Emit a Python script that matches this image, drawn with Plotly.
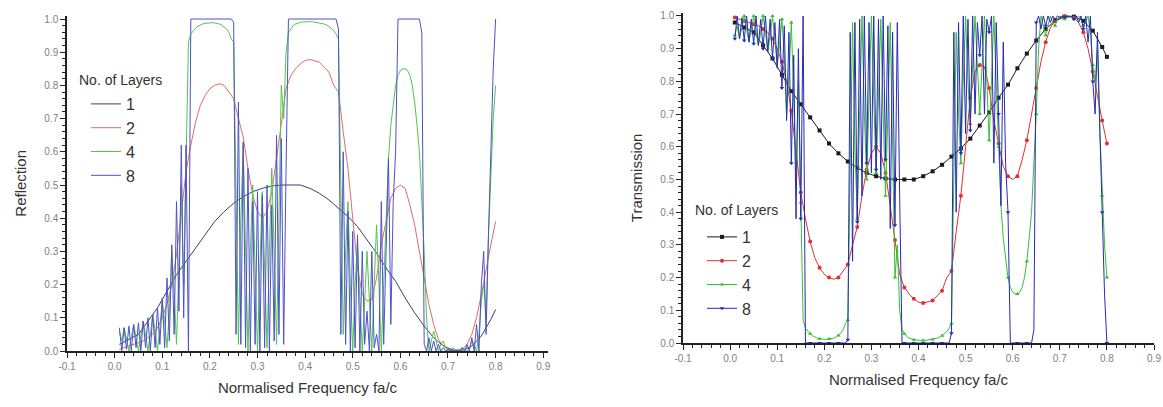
import plotly.graph_objects as go

# ---------------- data ----------------
LAYERS = ["1", "2", "4", "8"]

# sampling frequencies fa/c
FREQ_COARSE = [0.01, 0.03, 0.05, 0.07, 0.09, 0.11, 0.13, 0.15, 0.17, 0.19,
               0.21, 0.23, 0.25, 0.27, 0.29, 0.31, 0.33, 0.35, 0.37, 0.39,
               0.41, 0.43, 0.45, 0.47, 0.49, 0.51, 0.53, 0.55, 0.57, 0.59,
               0.61, 0.63, 0.65, 0.67, 0.69, 0.71, 0.73, 0.75, 0.77, 0.79,
               0.80]

FREQ_MID = [0.01, 0.02, 0.03, 0.04, 0.05, 0.06, 0.07, 0.08, 0.09, 0.10,
            0.11, 0.12, 0.13, 0.14, 0.15, 0.16, 0.17, 0.18, 0.19, 0.20,
            0.21, 0.22, 0.23, 0.24, 0.25, 0.26, 0.27, 0.28, 0.29, 0.30,
            0.31, 0.32, 0.33, 0.34, 0.35, 0.36, 0.37, 0.38, 0.39, 0.40,
            0.41, 0.42, 0.43, 0.44, 0.45, 0.46, 0.47, 0.48, 0.49, 0.50,
            0.51, 0.52, 0.53, 0.54, 0.55, 0.56, 0.57, 0.58, 0.59, 0.60,
            0.61, 0.62, 0.63, 0.64, 0.65, 0.66, 0.67, 0.68, 0.69, 0.70,
            0.71, 0.72, 0.73, 0.74, 0.75, 0.76, 0.77, 0.78, 0.79, 0.80]

FREQ_FINE = [0.010, 0.015, 0.020, 0.025, 0.030, 0.035, 0.040, 0.045, 0.050, 0.055,
             0.060, 0.065, 0.070, 0.075, 0.080, 0.085, 0.090, 0.095, 0.100, 0.105,
             0.110, 0.115, 0.120, 0.125, 0.130, 0.135, 0.140, 0.145, 0.150, 0.155,
             0.160, 0.165, 0.170, 0.175, 0.180, 0.185, 0.190, 0.195, 0.200, 0.205,
             0.210, 0.215, 0.220, 0.225, 0.230, 0.235, 0.240, 0.245, 0.250, 0.255,
             0.260, 0.265, 0.270, 0.275, 0.280, 0.285, 0.290, 0.295, 0.300, 0.305,
             0.310, 0.315, 0.320, 0.325, 0.330, 0.335, 0.340, 0.345, 0.350, 0.355,
             0.360, 0.365, 0.370, 0.375, 0.380, 0.385, 0.390, 0.395, 0.400, 0.405,
             0.410, 0.415, 0.420, 0.425, 0.430, 0.435, 0.440, 0.445, 0.450, 0.455,
             0.460, 0.465, 0.470, 0.475, 0.480, 0.485, 0.490, 0.495, 0.500, 0.505,
             0.510, 0.515, 0.520, 0.525, 0.530, 0.535, 0.540, 0.545, 0.550, 0.555,
             0.560, 0.565, 0.570, 0.575, 0.580, 0.585, 0.590, 0.595, 0.600, 0.605,
             0.610, 0.615, 0.620, 0.625, 0.630, 0.635, 0.640, 0.645, 0.650, 0.655,
             0.660, 0.665, 0.670, 0.675, 0.680, 0.685, 0.690, 0.695, 0.700, 0.705,
             0.710, 0.715, 0.720, 0.725, 0.730, 0.735, 0.740, 0.745, 0.750, 0.755,
             0.760, 0.765, 0.770, 0.775, 0.780, 0.785, 0.790, 0.795, 0.800]

# reflection, 1 layer (on FREQ_COARSE)
R1 = [0.02, 0.035, 0.05, 0.09, 0.13, 0.18, 0.23, 0.27, 0.31, 0.35,
      0.39, 0.42, 0.445, 0.465, 0.48, 0.49, 0.497, 0.50, 0.50, 0.50,
      0.49, 0.475, 0.455, 0.43, 0.405, 0.375, 0.335, 0.295, 0.25, 0.21,
      0.16, 0.115, 0.075, 0.04, 0.015, 0.003, 0.002, 0.015, 0.045, 0.095,
      0.125]

# reflection, 2 layers (on FREQ_MID)
R2 = [0.005, 0.01, 0.015, 0.02, 0.025, 0.03, 0.04, 0.05, 0.07, 0.10,
      0.14, 0.20, 0.29, 0.42, 0.54, 0.62, 0.69, 0.74, 0.77, 0.79,
      0.80, 0.805, 0.80, 0.78, 0.76, 0.70, 0.645, 0.55, 0.47, 0.42,
      0.40, 0.42, 0.48, 0.58, 0.685, 0.79, 0.83, 0.85, 0.865, 0.875,
      0.878, 0.875, 0.87, 0.855, 0.84, 0.80, 0.78, 0.66, 0.55, 0.40,
      0.25, 0.17, 0.15, 0.155, 0.22, 0.32, 0.39, 0.46, 0.49, 0.50,
      0.49, 0.44, 0.38, 0.30, 0.22, 0.14, 0.08, 0.035, 0.015, 0.005,
      0.0, 0.0, 0.005, 0.02, 0.05, 0.10, 0.17, 0.25, 0.32, 0.39]

# reflection, 4 layers (on FREQ_FINE)
R4 = [0.06, 0.03, 0.07, 0.03, 0.00, 0.04, 0.08, 0.04, 0.00, 0.045,
      0.09, 0.05, 0.00, 0.05, 0.11, 0.06, 0.00, 0.07, 0.15, 0.09,
      0.01, 0.12, 0.30, 0.18, 0.02, 0.25, 0.50, 0.20, 0.57, 0.93,
      0.955, 0.965, 0.972, 0.978, 0.982, 0.985, 0.987, 0.988, 0.989, 0.989,
      0.988, 0.987, 0.985, 0.982, 0.977, 0.970, 0.960, 0.940, 0.930, 0.50,
      0.02, 0.40, 0.62, 0.30, 0.00, 0.30, 0.50, 0.25, 0.00, 0.25,
      0.48, 0.25, 0.01, 0.30, 0.55, 0.30, 0.02, 0.40, 0.80, 0.70,
      0.90, 0.96, 0.972, 0.98, 0.985, 0.988, 0.99, 0.991, 0.992, 0.992,
      0.992, 0.992, 0.991, 0.99, 0.989, 0.987, 0.985, 0.982, 0.978, 0.972,
      0.965, 0.955, 0.94, 0.50, 0.05, 0.30, 0.45, 0.20, 0.00, 0.20,
      0.33, 0.15, 0.00, 0.15, 0.30, 0.15, 0.00, 0.20, 0.38, 0.20,
      0.00, 0.20, 0.40, 0.58, 0.68, 0.75, 0.80, 0.83, 0.845, 0.85,
      0.85, 0.845, 0.83, 0.80, 0.75, 0.68, 0.60, 0.45, 0.30, 0.10,
      0.00, 0.03, 0.06, 0.03, 0.00, 0.02, 0.03, 0.01, 0.00, 0.005,
      0.01, 0.005, 0.00, 0.005, 0.01, 0.005, 0.00, 0.01, 0.03, 0.02,
      0.00, 0.05, 0.15, 0.20, 0.10, 0.35, 0.55, 0.70, 0.80]

# reflection, 8 layers (on FREQ_FINE)
R8 = [0.07, 0.00, 0.07, 0.005, 0.075, 0.00, 0.08, 0.01, 0.085, 0.00,
      0.09, 0.01, 0.10, 0.00, 0.11, 0.01, 0.13, 0.02, 0.16, 0.01,
      0.22, 0.03, 0.32, 0.05, 0.45, 0.12, 0.62, 0.10, 0.62, 0.00,
      1.0, 1.0, 1.0, 1.0, 1.0, 1.0, 1.0, 1.0, 1.0, 1.0,
      1.0, 1.0, 1.0, 1.0, 1.0, 1.0, 1.0, 1.0, 0.99, 0.05,
      0.75, 0.02, 0.63, 0.01, 0.55, 0.00, 0.45, 0.02, 0.48, 0.00,
      0.47, 0.01, 0.50, 0.00, 0.44, 0.03, 0.65, 0.05, 0.64, 0.02,
      0.55, 1.0, 1.0, 1.0, 1.0, 1.0, 1.0, 1.0, 1.0, 1.0,
      1.0, 1.0, 1.0, 1.0, 1.0, 1.0, 1.0, 1.0, 1.0, 1.0,
      1.0, 1.0, 0.97, 0.05, 0.60, 0.02, 0.42, 0.00, 0.36, 0.01,
      0.35, 0.00, 0.30, 0.02, 0.12, 0.00, 0.30, 0.01, 0.05, 0.00,
      0.45, 0.02, 0.30, 0.58, 0.08, 0.45, 0.60, 1.0, 1.0, 1.0,
      1.0, 1.0, 1.0, 1.0, 1.0, 1.0, 1.0, 0.96, 0.02, 0.00,
      0.04, 0.00, 0.03, 0.00, 0.02, 0.00, 0.01, 0.00, 0.005, 0.00,
      0.003, 0.00, 0.003, 0.00, 0.01, 0.00, 0.02, 0.00, 0.04, 0.00,
      0.08, 0.00, 0.20, 0.30, 0.05, 0.35, 0.60, 0.85, 1.0]

X_TICKS = [-0.1, 0.0, 0.1, 0.2, 0.3, 0.4, 0.5, 0.6, 0.7, 0.8, 0.9]
X_TICK_LABELS = ["-0.1", "0.0", "0.1", "0.2", "0.3", "0.4", "0.5", "0.6", "0.7", "0.8", "0.9"]
Y_TICKS = [0.0, 0.1, 0.2, 0.3, 0.4, 0.5, 0.6, 0.7, 0.8, 0.9, 1.0]
Y_TICK_LABELS = ["0.0", "0.1", "0.2", "0.3", "0.4", "0.5", "0.6", "0.7", "0.8", "0.9", "1.0"]

X_TITLE = "Normalised Frequency fa/c"
LEGEND_TITLE = "No. of Layers"

# ---------------- styling ----------------
FONT = "Liberation Sans, Arial, sans-serif"
LEFT_COLORS = ["#3c3c70", "#e46a6a", "#4cc84c", "#5050cc"]
RIGHT_COLORS = ["#1a1a1a", "#e03030", "#33c233", "#2a2ab4"]
SYMBOLS = ["square", "circle", "triangle-up", "triangle-down"]
MARKER_STEP = [1, 2, 4, 4]

series = [
    (FREQ_COARSE, R1),
    (FREQ_MID, R2),
    (FREQ_FINE, R4),
    (FREQ_FINE, R8),
]

fig = go.Figure()

# left panel: reflection
for k, (xs, rs) in enumerate(series):
    fig.add_trace(go.Scatter(
        x=xs, y=rs, mode="lines", name=LAYERS[k],
        line=dict(color=LEFT_COLORS[k], width=1),
        xaxis="x", yaxis="y", legend="legend",
    ))

# right panel: transmission = 1 - reflection
for k, (xs, rs) in enumerate(series):
    ts = [round(1.0 - r, 4) for r in rs]
    step = MARKER_STEP[k]
    idx = [i for i in range(len(xs)) if i % step == 0 or i == len(xs) - 1]
    fig.add_trace(go.Scatter(
        x=xs, y=ts, mode="lines", showlegend=False,
        line=dict(color=RIGHT_COLORS[k], width=1),
        xaxis="x2", yaxis="y2", hoverinfo="skip",
    ))
    fig.add_trace(go.Scatter(
        x=[xs[i] for i in idx], y=[ts[i] for i in idx], mode="markers",
        showlegend=False, cliponaxis=False,
        marker=dict(color=RIGHT_COLORS[k], symbol=SYMBOLS[k], size=4),
        xaxis="x2", yaxis="y2",
    ))
for k in range(4):
    fig.add_trace(go.Scatter(
        x=[None], y=[None], mode="lines+markers", name=LAYERS[k],
        line=dict(color=RIGHT_COLORS[k], width=1),
        marker=dict(color=RIGHT_COLORS[k], symbol=SYMBOLS[k], size=4),
        xaxis="x2", yaxis="y2", legend="legend2",
    ))

W, H = 1163, 407


def axis_common():
    return dict(
        automargin=False,
        showgrid=False, zeroline=False, showline=True,
        linecolor="#222222", linewidth=1.5,
        ticks="outside", ticklen=5, tickwidth=1.2, tickcolor="#222222",
        tickfont=dict(family=FONT, size=10, color="#808080"),
        title_font=dict(family=FONT, size=15, color="#333333"),
    )


MINOR = dict(ticks="outside", ticklen=3, dtick=0.02, tick0=0, tickcolor="#222222")

xl = axis_common()
xl.update(domain=[67 / W, 548 / W], range=[-0.1, 0.91], anchor="y",
          tickvals=X_TICKS, ticktext=X_TICK_LABELS, minor=MINOR,
          title=dict(text=X_TITLE, standoff=12))
yl = axis_common()
yl.update(domain=[(H - 351) / H, (H - 15.7) / H], range=[0, 1.01], anchor="x",
          tickvals=Y_TICKS, ticktext=Y_TICK_LABELS, minor=MINOR,
          title=dict(text="Reflection", standoff=14))
xr = axis_common()
xr.update(domain=[683 / W, 1154 / W], range=[-0.1, 0.9], anchor="y2",
          tickvals=X_TICKS, ticktext=X_TICK_LABELS, minor=MINOR,
          title=dict(text=X_TITLE, standoff=12))
yr = axis_common()
yr.update(domain=[(H - 343) / H, (H - 12.7) / H], range=[0, 1.01], anchor="x2",
          tickvals=Y_TICKS, ticktext=Y_TICK_LABELS, minor=MINOR,
          title=dict(text="Transmission", standoff=14))

legend_common = dict(
    xanchor="left", yanchor="top", bgcolor="rgba(0,0,0,0)",
    font=dict(family=FONT, size=16, color="#333333"),
    tracegroupgap=0, itemwidth=30,
)

fig.update_layout(
    width=W, height=H,
    margin=dict(l=0, r=0, t=0, b=0, autoexpand=False),
    paper_bgcolor="white", plot_bgcolor="white",
    showlegend=True,
    xaxis=xl, yaxis=yl, xaxis2=xr, yaxis2=yr,
    legend=dict(x=86 / W, y=1 - 87 / H, **legend_common),
    legend2=dict(x=702 / W, y=1 - 220 / H, **legend_common),
    annotations=[
        dict(text=LEGEND_TITLE, x=77 / W, y=1 - 80 / H, xref="paper", yref="paper",
             xanchor="left", yanchor="middle", showarrow=False,
             font=dict(family=FONT, size=14, color="#333333")),
        dict(text=LEGEND_TITLE, x=693 / W, y=1 - 210 / H, xref="paper", yref="paper",
             xanchor="left", yanchor="middle", showarrow=False,
             font=dict(family=FONT, size=14, color="#333333")),
    ],
)

# remove the browser's default 8px page margin so the figure sits at (0, 0)
fig.write_html("out.html", config={"displayModeBar": False},
               post_script="document.body.style.margin='0px';")
